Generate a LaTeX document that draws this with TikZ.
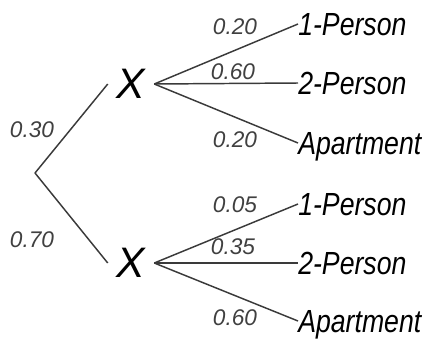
\documentclass[tikz,border=0pt]{standalone}
\usepackage{fontspec}
\setmainfont{Liberation Sans}
\definecolor{linec}{HTML}{3A3A3A}
\definecolor{probc}{HTML}{404040}
\newcommand{\tallword}[1]{\scalebox{1}[1.2]{#1}}
\begin{document}
\begin{tikzpicture}[x=0.75pt,y=-0.75pt,
  branch/.style={draw=linec,line width=1.1pt},
  prob/.style={inner sep=0pt,text=probc,font=\fontsize{17}{17}\selectfont\itshape},
  outcome/.style={anchor=west,inner sep=0pt,text height=17pt,text depth=0pt,font=\fontsize{20}{20}\selectfont\itshape},
  xnode/.style={inner sep=0pt,minimum width=34.5pt,font=\fontsize{32}{32}\selectfont\itshape}]
\useasboundingbox (0,0) rectangle (432,347);
\coordinate (root) at (35,173);
\node[xnode] (xu) at (131,84) {X};
\node[xnode] (xl) at (131,263) {X};
\draw[branch] (root) -- (xu.west);
\draw[branch] (root) -- (xl.west);
\node[outcome] (u1) at (298,24) {\tallword{1-Person}};
\node[outcome] (u2) at (298,83) {\tallword{2-Person}};
\node[outcome] (u3) at (298,143) {\tallword{Apartment}};
\node[outcome] (l1) at (298,204) {\tallword{1-Person}};
\node[outcome] (l2) at (298,263) {\tallword{2-Person}};
\node[outcome] (l3) at (298,321) {\tallword{Apartment}};
\foreach \t in {u1,u2,u3} \draw[branch] (xu.east) -- (\t.west);
\foreach \t in {l1,l2,l3} \draw[branch] (xl.east) -- (\t.west);
\node[prob] (p1) at (32,130) {0.30};
\node[prob] (p2) at (32,240) {0.70};
\node[prob] (p3) at (235,27) {0.20};
\node[prob] (p4) at (233,72) {0.60};
\node[prob] (p5) at (235,140) {0.20};
\node[prob] (p6) at (235,205) {0.05};
\node[prob] (p7) at (233,247) {0.35};
\node[prob] (p8) at (235,318) {0.60};
\end{tikzpicture}
\end{document}
